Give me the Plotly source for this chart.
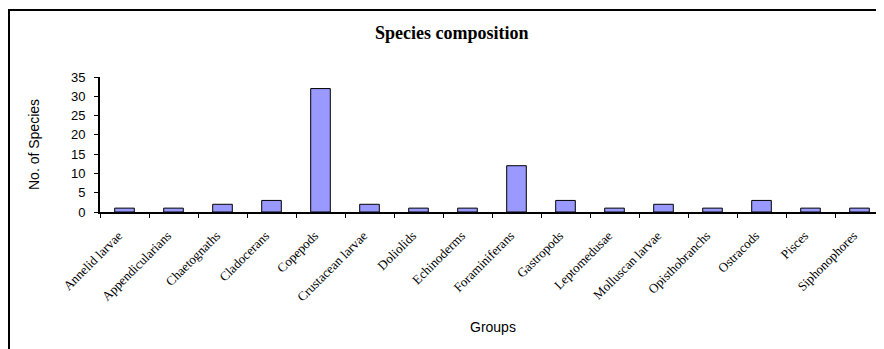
import plotly.graph_objects as go

categories = ["Annelid larvae", "Appendicularians", "Chaetognaths", "Cladocerans", "Copepods",
              "Crustacean larvae", "Doliolids", "Echinoderms", "Foraminiferans", "Gastropods",
              "Leptomedusae", "Molluscan larvae", "Opisthobranchs", "Ostracods", "Pisces",
              "Siphonophores"]
species_counts = [1, 1, 2, 3, 32, 2, 1, 1, 12, 3, 1, 2, 1, 3, 1, 1]
y_ticks = [0, 5, 10, 15, 20, 25, 30, 35]

# page body has an 8px margin; work in screen coordinates and convert
OFF = 8
W, H = 884 - OFF, 349 - OFF
L, R, T, B = 100 - OFF, 0, 77 - OFF, 349 - 212
pw = W - L - R
ph = H - T - B

def px(x):
    return (x - OFF - L) / pw

def py(y):
    return (H - B - (y - OFF)) / ph

fig = go.Figure(go.Bar(
    x=categories, y=species_counts,
    marker=dict(color="#9999FF", line=dict(color="black", width=1)),
))

fig.update_layout(
    width=W, height=H,
    margin=dict(l=L, r=R, t=T, b=B, autoexpand=False),
    paper_bgcolor="white", plot_bgcolor="white",
    showlegend=False,
    bargap=0.6,
    xaxis=dict(
        showline=True, linecolor="black", linewidth=2, automargin=False,
        ticks="outside", ticklen=4, tickcolor="black", tickson="boundaries",
        tickangle=-45, tickfont=dict(family="Liberation Serif", size=13, color="black"),
        ticklabelstandoff=9, ticklabelshift=-6,
        showgrid=False, zeroline=False,
    ),
    yaxis=dict(
        range=[0, 35], tickvals=y_ticks, automargin=False,
        showline=True, linecolor="black", linewidth=2,
        ticks="outside", ticklen=4, tickcolor="black",
        tickfont=dict(family="Liberation Sans", size=13, color="black"),
        ticklabelstandoff=6,
        showgrid=False, zeroline=False,
    ),
    annotations=[
        dict(text="<b>Species composition</b>", xref="paper", yref="paper",
             x=px(452), y=py(33), showarrow=False, xanchor="center", yanchor="middle",
             font=dict(family="Liberation Serif", size=18, color="black")),
        dict(text="No. of Species", xref="paper", yref="paper",
             x=px(34), y=py(145), showarrow=False, textangle=-90,
             xanchor="center", yanchor="middle",
             font=dict(family="Liberation Sans", size=14, color="black")),
        dict(text="Groups", xref="paper", yref="paper",
             x=px(493), y=py(327), showarrow=False, xanchor="center", yanchor="middle",
             font=dict(family="Liberation Sans", size=14, color="black")),
    ],
    shapes=[
        dict(type="path", xref="paper", yref="paper",
             path=f"M {px(9)} {py(360)} L {px(9)} {py(10)} L {px(900)} {py(10)}",
             line=dict(color="black", width=2)),
    ],
)

fig.write_html("out.html")
